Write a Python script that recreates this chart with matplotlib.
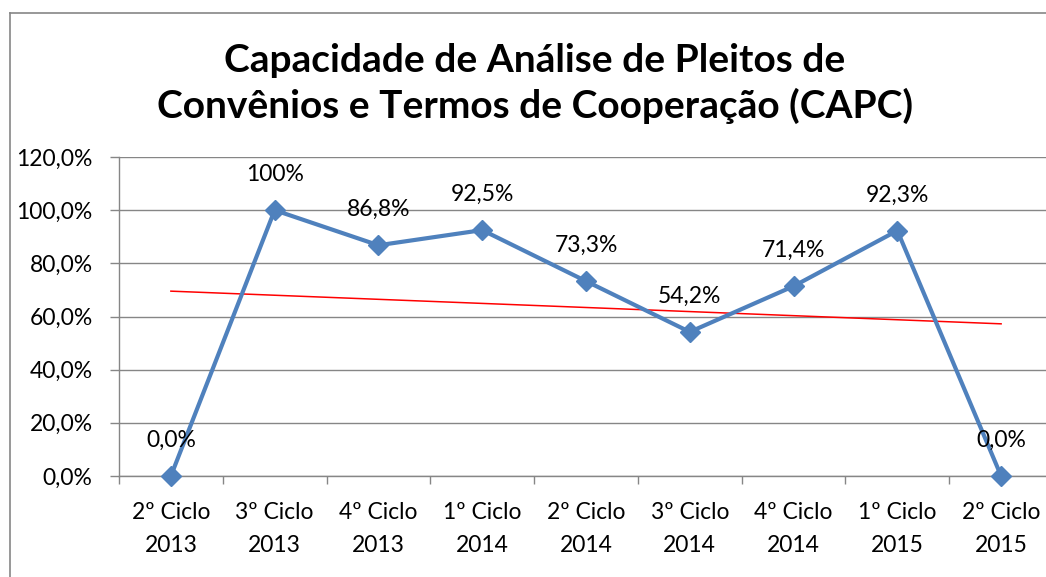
import numpy as np
import matplotlib
matplotlib.use("Agg")
import matplotlib.pyplot as plt
from matplotlib.lines import Line2D
from matplotlib.ticker import FuncFormatter, MultipleLocator

categories = ["2º Ciclo\n2013", "3º Ciclo\n2013", "4º Ciclo\n2013", "1º Ciclo\n2014",
              "2º Ciclo\n2014", "3º Ciclo\n2014", "4º Ciclo\n2014", "1º Ciclo\n2015",
              "2º Ciclo\n2015"]
values = [0.0, 100.0, 86.8, 92.5, 73.3, 54.2, 71.4, 92.3, 0.0]
value_labels = ["0,0%", "100%", "86,8%", "92,5%", "73,3%", "54,2%", "71,4%", "92,3%", "0,0%"]
title_lines = ["Capacidade de Análise de Pleitos de",
               "Convênios e Termos de Cooperação (CAPC)"]

plt.rcParams['font.family'] = ['Lato', 'DejaVu Sans']

fig = plt.figure(figsize=(10.46, 5.77), dpi=100)
W, H = 1046, 577
ax_bottom_px, ax_top_px = 476, 157
ax = fig.add_axes([119 / W, 1 - ax_bottom_px / H, (1053 - 119) / W,
                   (ax_bottom_px - ax_top_px) / H])
ax_h = ax_bottom_px - ax_top_px

x = np.arange(len(values))
gray = "#868686"
fs = 16.5

# trend line (linear fit)
coef = np.polyfit(x, values, 1)
ax.plot(x, np.polyval(coef, x), color="#FF0000", lw=1.1, zorder=2)

ax.plot(x, values, color="#4F81BD", lw=3.0, marker="D", ms=10, mec="#4F81BD",
        mfc="#4F81BD", zorder=3, clip_on=False)

for xi, v, lab in zip(x, values, value_labels):
    ax.annotate(lab, (xi, v), xytext=(0, 25.5), textcoords="offset points",
                ha="center", va="center", fontsize=fs, color="black")

ax.set_xlim(-0.5, len(values) - 0.5)
ax.set_ylim(0, 120)
ax.yaxis.set_major_locator(MultipleLocator(20))
ax.yaxis.set_major_formatter(FuncFormatter(lambda v, p: f"{v:.1f}%".replace(".", ",")))
ax.grid(axis="y", color=gray, lw=1.0)
ax.set_axisbelow(True)

ax.set_xticks(np.arange(len(values) + 1) - 0.5)
ax.set_xticklabels([])
ax.tick_params(axis="x", which="major", length=6, color=gray, width=1)
ax.tick_params(axis="y", length=6.5, color=gray, width=1, pad=12.5, labelsize=fs)

xt = ax.get_xaxis_transform()
for xi, cat in zip(x, categories):
    l1, l2 = cat.split("\n")
    ax.text(xi, -(519 - ax_bottom_px) / ax_h, l1, transform=xt, ha="center",
            va="baseline", fontsize=fs)
    ax.text(xi, -(552 - ax_bottom_px) / ax_h, l2, transform=xt, ha="center",
            va="baseline", fontsize=fs)

for s in ["top", "right"]:
    ax.spines[s].set_visible(False)
for s in ["left", "bottom"]:
    ax.spines[s].set_color(gray)
    ax.spines[s].set_linewidth(1.0)

fig.text(535 / W, 1 - 72 / H, title_lines[0], ha="center", va="baseline",
         fontsize=28, fontweight="bold")
fig.text(535 / W, 1 - 118 / H, title_lines[1], ha="center", va="baseline",
         fontsize=28, fontweight="bold")

# chart frame
fig.add_artist(Line2D([10 / W, 10 / W], [0, 1 - 13 / H], color=gray, lw=1.2,
                      transform=fig.transFigure))
fig.add_artist(Line2D([10 / W, 1], [1 - 13 / H, 1 - 13 / H], color=gray, lw=1.2,
                      transform=fig.transFigure))

fig.savefig("out.png", dpi=100)
